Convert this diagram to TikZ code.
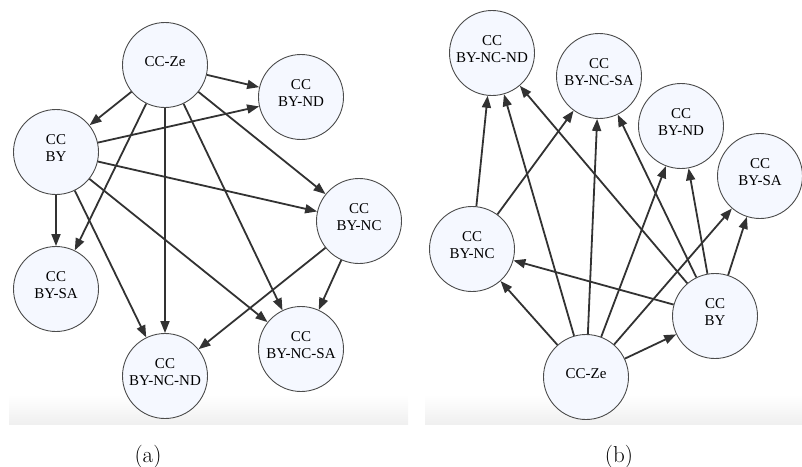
\documentclass[tikz,border=0pt]{standalone}
\usepackage{fontspec}
\usepackage{tikz}
\usetikzlibrary{arrows.meta}
\newfontfamily\licfont{Liberation Serif}
\definecolor{licfill}{RGB}{245,248,255}
\definecolor{edgegray}{RGB}{50,50,50}
\tikzset{
lic/.style={circle, draw=black!70, line width=0.9pt, fill=licfill, minimum size=85pt, inner sep=0pt, align=center, text depth=7pt, font=\licfont\fontsize{15}{17}\selectfont},
arr/.style={draw=edgegray, line width=1.8pt, -{Triangle[length=12pt,width=9pt]}},
band/.style={top color=white, bottom color=gray!12},
captext/.style={anchor=base, font=\fontsize{23}{26}\selectfont}
}

\begin{document}
\begin{tikzpicture}[x=1pt,y=-1pt]
\useasboundingbox (0,0) rectangle (802,466);
\shade[band] (9,395) rectangle (408,424);
\shade[band] (425,395) rectangle (802,424);
% (a)
\node[lic] (aze) at (165,65) {CC-Ze};
\node[lic] (abynd) at (301,97) {CC\\BY-ND};
\node[lic] (aby) at (56,152) {CC\\BY};
\node[lic] (abync) at (359,221) {CC\\BY-NC};
\node[lic] (abysa) at (56,289) {CC\\BY-SA};
\node[lic] (abyncnd) at (165,376) {CC\\BY-NC-ND};
\node[lic] (abyncsa) at (301,349) {CC\\BY-NC-SA};
\draw[arr] (aze) -- (abynd);
\draw[arr] (aze) -- (aby);
\draw[arr] (aze) -- (abysa);
\draw[arr] (aze) -- (abyncnd);
\draw[arr] (aze) -- (abyncsa);
\draw[arr] (aze) -- (abync);
\draw[arr] (aby) -- (abynd);
\draw[arr] (aby) -- (abync);
\draw[arr] (aby) -- (abysa);
\draw[arr] (aby) -- (abyncnd);
\draw[arr] (aby) -- (abyncsa);
\draw[arr] (abync) -- (abyncnd);
\draw[arr] (abync) -- (abyncsa);
\node[captext] (capa) at (148,462) {(a)};
% (b)
\node[lic] (bbyncnd) at (492,53) {CC\\BY-NC-ND};
\node[lic] (bbyncsa) at (599,76) {CC\\BY-NC-SA};
\node[lic] (bbynd) at (681,126) {CC\\BY-ND};
\node[lic] (bbysa) at (760,176) {CC\\BY-SA};
\node[lic] (bbync) at (472,249) {CC\\BY-NC};
\node[lic] (bby) at (715,316) {CC\\BY};
\node[lic] (bze) at (586,377) {CC-Ze};
\draw[arr] (bbync) -- (bbyncnd);
\draw[arr] (bbync) -- (bbyncsa);
\draw[arr] (bze) -- (bbync);
\draw[arr] (bze) -- (bbyncnd);
\draw[arr] (bze) -- (bbyncsa);
\draw[arr] (bze) -- (bbynd);
\draw[arr] (bze) -- (bbysa);
\draw[arr] (bze) -- (bby);
\draw[arr] (bby) -- (bbync);
\draw[arr] (bby) -- (bbyncnd);
\draw[arr] (bby) -- (bbyncsa);
\draw[arr] (bby) -- (bbynd);
\draw[arr] (bby) -- (bbysa);
\node[captext] (capb) at (619,462) {(b)};
\end{tikzpicture}
\end{document}
